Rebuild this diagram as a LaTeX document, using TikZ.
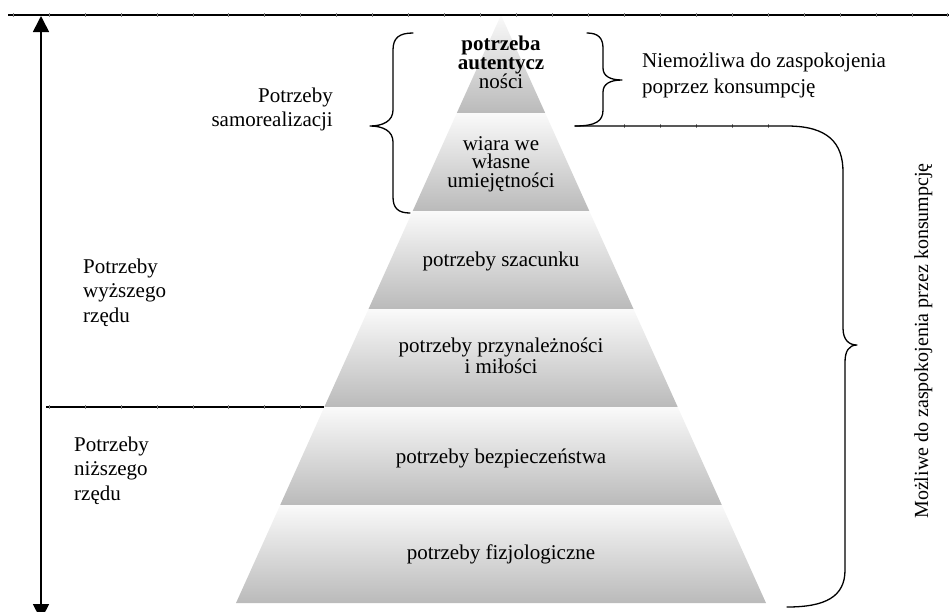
\documentclass[tikz,border=0pt]{standalone}
\usepackage{fontspec}
\setmainfont{Liberation Serif}
\usetikzlibrary{arrows.meta}
\lineskiplimit=-100pt
\lineskip=0pt
\begin{document}
\begin{tikzpicture}[x=1pt,y=-1pt,
  lbl/.style={inner sep=0pt, font=\fontsize{21}{24.5}\selectfont},
  layer/.style={top color=black!2, bottom color=black!27, draw=none},
  rule/.style={line width=1.5pt},
  brace/.style={line width=1.3pt, line join=round, line cap=round},
  tickmark/.style={line width=0.5pt, black!50}]
\useasboundingbox (0,0) rectangle (949,611);

% pyramid corners
\coordinate (p0) at (501,15);
\coordinate (l1) at (456.8,113); \coordinate (r1) at (545.2,113);
\coordinate (l2) at (412.7,211); \coordinate (r2) at (589.3,211);
\coordinate (l3) at (368.5,309); \coordinate (r3) at (633.5,309);
\coordinate (l4) at (324.3,407); \coordinate (r4) at (677.7,407);
\coordinate (l5) at (280.2,505); \coordinate (r5) at (721.8,505);
\coordinate (l6) at (236,603);   \coordinate (r6) at (766,603);

\shade[layer] (p0) -- (r1) -- (l1) -- cycle;
\shade[layer] (l1) -- (r1) -- (r2) -- (l2) -- cycle;
\shade[layer] (l2) -- (r2) -- (r3) -- (l3) -- cycle;
\shade[layer] (l3) -- (r3) -- (r4) -- (l4) -- cycle;
\shade[layer] (l4) -- (r4) -- (r5) -- (l5) -- cycle;
\shade[layer] (l5) -- (r5) -- (r6) -- (l6) -- cycle;

% pyramid texts (anchor=base is the baseline of the last line)
\node[lbl, align=center, anchor=base, font=\bfseries\fontsize{21}{19}\selectfont] (t1) at (501,88) {potrzeba\\autentycz\\\textmd{ności}};
\node[lbl, align=center, anchor=base, font=\fontsize{21}{18.5}\selectfont] (t2) at (501,187) {wiara we\\własne\\umiejętności};
\node[lbl, anchor=base] (t3) at (501,266) {potrzeby szacunku};
\node[lbl, align=center, anchor=base, font=\fontsize{21}{21}\selectfont] (t4) at (501,373) {potrzeby przynależności\\i miłości};
\node[lbl, anchor=base] (t5) at (501,463) {potrzeby bezpieczeństwa};
\node[lbl, anchor=base] (t6) at (501,559) {potrzeby fizjologiczne};

% horizontal rules
\coordinate (hl0) at (8,15);   \coordinate (hr0) at (949,15);
\coordinate (hl1) at (46,407);
\draw[rule] (hl0) -- (hr0);
\draw[rule] (hl1) -- (l4);
\foreach \i in {0,...,26} \draw[tickmark] ({13+35.95*\i},13) -- ({13+35.95*\i},17);
\foreach \i in {1,...,8} \draw[tickmark] ({13+35.95*\i},405) -- ({13+35.95*\i},409);
\foreach \i in {17,...,21} \draw[tickmark] ({13+35.95*\i},124) -- ({13+35.95*\i},128);

% vertical double arrow
\coordinate (atop) at (41,16);
\coordinate (abot) at (41,620);
\draw[line width=1.6pt, {Triangle[length=16pt,width=16pt]}-{Triangle[length=16pt,width=16pt]}] (atop) -- (abot);

% left brace (samorealizacja)
\draw[brace] (413,33) .. controls (399,33) and (393,38) .. (393,50) -- (393,110)
  .. controls (393,121) and (383,126) .. (370,126)
  .. controls (383,126) and (393,131) .. (393,142) -- (393,197)
  .. controls (393,208) and (398,213) .. (410,213);

% small right brace
\draw[brace] (587,33) .. controls (598,33) and (603,38) .. (603,48) -- (603,68)
  .. controls (603,76) and (610,80) .. (622,80)
  .. controls (610,80) and (603,84) .. (603,92) -- (603,110)
  .. controls (603,121) and (596,126) .. (575,126);

% big right brace
\draw[brace] (575,126) -- (787,126) .. controls (828,126) and (843,143) .. (843,172) -- (843,328)
  .. controls (843,340) and (849,345) .. (857,345)
  .. controls (849,345) and (845,351) .. (845,362) -- (845,570)
  .. controls (845,597) and (825,607) .. (787,607);

% outside labels
\node[lbl, align=right, anchor=base east, font=\fontsize{21}{23.5}\selectfont] (samo) at (333,126) {Potrzeby\\samorealizacji};
\node[lbl, align=left, anchor=base west] (wyz) at (83,322) {Potrzeby\\wyższego\\rzędu};
\node[lbl, align=left, anchor=base west] (niz) at (74,500) {Potrzeby\\niższego\\rzędu};
\node[lbl, align=left, anchor=base west, font=\fontsize{21}{26}\selectfont] (niem) at (642,93) {Niemożliwa do zaspokojenia\\poprzez konsumpcję};
\node[lbl, rotate=90, anchor=base, font=\fontsize{20}{24}\selectfont] (moz) at (928,341) {Możliwe do zaspokojenia przez konsumpcję};
\end{tikzpicture}
\end{document}
